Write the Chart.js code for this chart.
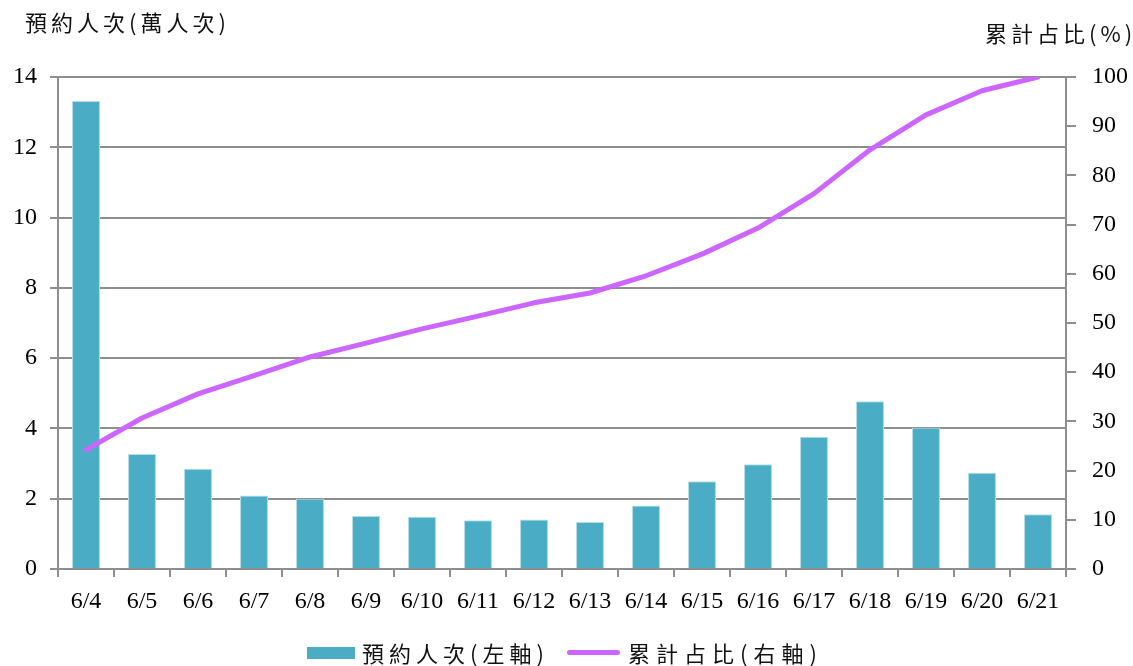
<!DOCTYPE html>
<html>
<head>
<meta charset="utf-8">
<script src="https://cdn.jsdelivr.net/npm/chart.js@4.4.1/dist/chart.umd.min.js"></script>
<style>
  html, body { margin: 0; padding: 0; background: #fff; }
  #wrap { position: relative; width: 1133px; height: 666px; }
  .cap { position: absolute; font-family: "Noto Sans CJK TC", "Liberation Serif", serif; font-size: 22px; color: #111; white-space: nowrap; }
  #legend { position: absolute; top: 636px; left: 0; width: 1133px; height: 30px; }
  .sw { position: absolute; }
</style>
</head>
<body>
<div id="wrap">
  <canvas id="c" width="1133" height="666"></canvas>
  <div class="cap" style="left:25px; top:5px; letter-spacing:4px;">預約人次(萬人次)</div>
  <div class="cap" style="left:985px; top:16px; letter-spacing:4px;">累計占比(%)</div>
  <div id="legend">
    <div class="sw" style="left:307px; top:11px; width:48px; height:12px; background:#4BACC6;"></div>
    <div class="cap" style="left:362px; top:0px; letter-spacing:5px;">預約人次(左軸)</div>
    <div class="sw" style="left:567px; top:14px; width:53px; height:5px; border-radius:3px; background:#CC66FF;"></div>
    <div class="cap" style="left:628px; top:0px; letter-spacing:6px;">累計占比(右軸)</div>
  </div>
</div>
<script>
// daily bookings (10k persons) and cumulative share (%)
const days = ["6/4","6/5","6/6","6/7","6/8","6/9","6/10","6/11","6/12","6/13","6/14","6/15","6/16","6/17","6/18","6/19","6/20","6/21"];
const bookings = [13.32, 3.27, 2.85, 2.09, 2.0, 1.51, 1.49, 1.39, 1.41, 1.34, 1.81, 2.5, 2.98, 3.76, 4.77, 4.02, 2.74, 1.56];
const cumShare = [24.2, 30.7, 35.6, 39.3, 43.1, 45.9, 48.8, 51.4, 54.1, 56.1, 59.6, 64.0, 69.3, 76.3, 85.2, 92.3, 97.2, 100];
const leftTicks = [0, 2, 4, 6, 8, 10, 12, 14];
const rightTicks = [0, 10, 20, 30, 40, 50, 60, 70, 80, 90, 100];

const gridGrey = '#8e8e8e';
const tickFont = { family: '"Liberation Serif", "Times New Roman", serif', size: 24 };

new Chart(document.getElementById('c'), {
  data: {
    labels: days,
    datasets: [
      {
        type: 'line', label: '累計占比(右軸)', data: cumShare, yAxisID: 'y1',
        borderColor: '#CC66FF', borderWidth: 5, pointRadius: 0, tension: 0,
        borderCapStyle: 'round', borderJoinStyle: 'round', order: 0
      },
      {
        type: 'bar', label: '預約人次(左軸)', data: bookings, yAxisID: 'y',
        backgroundColor: '#4BACC6', borderColor: '#b5dde8', borderWidth: { top: 1, left: 1, right: 1, bottom: 0 },
        barPercentage: 0.5, categoryPercentage: 1, order: 1
      }
    ]
  },
  options: {
    responsive: false,
    animation: false,
    layout: { padding: { top: 77, left: 0, right: 0, bottom: 50 } },
    plugins: { legend: { display: false }, tooltip: { enabled: false } },
    scales: {
      x: {
        offset: true,
        grid: { offset: true, drawOnChartArea: false, color: gridGrey, lineWidth: 2, tickLength: 8 },
        border: { color: gridGrey, width: 2 },
        ticks: { color: '#000', font: tickFont, padding: 10, maxRotation: 0, autoSkip: false },
        afterFit: s => { s.height = 47; }
      },
      y: {
        position: 'left', min: 0, max: 14,
        afterBuildTicks: s => { s.ticks = leftTicks.map(v => ({ value: v })); },
        grid: { color: gridGrey, lineWidth: 2, tickLength: 8 },
        border: { color: gridGrey, width: 2 },
        ticks: { color: '#000', font: tickFont, padding: 13 },
        afterFit: s => { s.width = 58; }
      },
      y1: {
        position: 'right', min: 0, max: 100,
        afterBuildTicks: s => { s.ticks = rightTicks.map(v => ({ value: v })); },
        grid: { drawOnChartArea: false, color: gridGrey, lineWidth: 2, tickLength: 10 },
        border: { color: gridGrey, width: 2 },
        ticks: { color: '#000', font: tickFont, padding: 16 },
        afterFit: s => { s.width = 67; }
      }
    }
  }
});
</script>
</body>
</html>
